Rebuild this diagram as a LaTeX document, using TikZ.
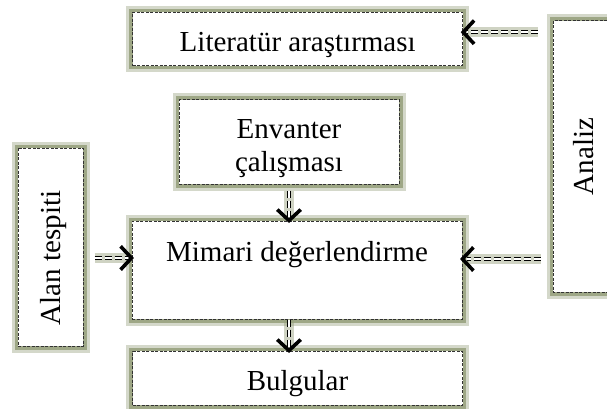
\documentclass[tikz,border=0pt]{standalone}
\usepackage{fontspec}
\setmainfont{Liberation Serif}
\usetikzlibrary{calc}
\definecolor{glow}{RGB}{148,158,122}
\definecolor{rim}{RGB}{50,50,50}

\tikzset{
  box/.style={draw=rim, line width=1pt, dash pattern=on 3pt off 1.5pt, fill=white, inner sep=0pt,
    font=\fontsize{29}{33}\selectfont,
    preaction={draw=glow, solid, line width=13pt, draw opacity=.4},
    preaction={draw=glow, solid, line width=7pt, draw opacity=.85}},
  arr/.style={draw=black, line width=0.9pt, double=white, double distance=1.8pt,
    dash pattern=on 7pt off 3pt, shorten >=4pt,
    preaction={draw=glow, solid, line width=10pt, draw opacity=.45}},
  tip/.style={draw=black, line width=3.6pt, line join=miter,
    to path={($(\tikztotarget)!16pt!47:(\tikztostart)$) -- (\tikztotarget) -- ($(\tikztotarget)!16pt!-47:(\tikztostart)$)}}
}

\begin{document}
\begin{tikzpicture}[x=1pt, y=-1pt]
  \useasboundingbox (0,0) rectangle (607,409);
  \clip (0,0) rectangle (607,409);

  \node (lit) [box, minimum width=330pt, text height=39pt, text depth=14.5pt] at (297.7,39.2) {Literatür araştırması};
  \node (env) [box, minimum width=220pt, align=center, text height=71.7pt, text depth=12.3pt] at (289,142) {Envanter\\çalışması};
  \node (mim) [box, minimum width=330pt, text height=40pt, text depth=58pt] at (297,270) {Mimari değerlendirme};
  \node (bul) [box, minimum width=330pt, text height=39pt, text depth=15pt] at (297.5,378) {Bulgular};
  \node (alan) [box, rotate=90, minimum width=198pt, text height=42pt, text depth=23pt] at (50.5,247) {Alan tespiti\hspace*{22pt}};
  \node (ana) [box, rotate=90, minimum width=271pt, text height=40pt, text depth=22pt] at (584,156.5) {Analiz};

  \coordinate (litin) at ([yshift=7pt]lit.east);
  \coordinate (mimin) at ([yshift=11pt]mim.east);
  \coordinate (mimout) at ([yshift=12pt]mim.west);
  \coordinate (mimtop) at (env.south |- mim.north);
  \coordinate (bultop) at (env.south |- bul.north);

  \path
    (ana.north |- litin) edge[arr, shorten <=15pt] (litin)
    (ana.north |- mimin) edge[arr, shorten <=12pt] (mimin)
    (alan.south |- mimout) edge[arr, shorten <=11pt] (mimout)
    (env.south) edge[arr, shorten <=6pt] (mimtop)
    (env.south |- mim.south) edge[arr] (bultop);
  \path
    ([xshift=3pt]litin) edge[tip] (litin)
    ([xshift=3pt]mimin) edge[tip] (mimin)
    ([xshift=-3pt]mimout) edge[tip] (mimout)
    ([yshift=3pt]mimtop) edge[tip] (mimtop)
    ([yshift=3pt]bultop) edge[tip] (bultop);
\end{tikzpicture}
\end{document}
